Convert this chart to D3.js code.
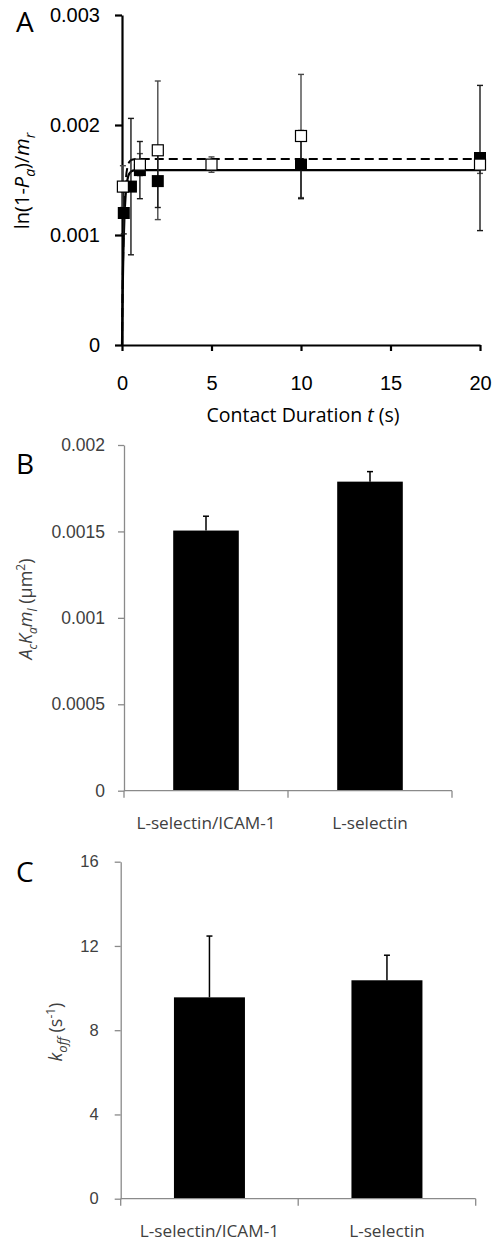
<!DOCTYPE html>
<html>
<head>
<meta charset="utf-8">
<script src="https://cdn.jsdelivr.net/npm/d3@7"></script>
<style>
  html, body { margin: 0; padding: 0; background: #fff; }
  svg { display: block; font-family: "Open Sans", sans-serif; }
</style>
</head>
<body>
<svg id="fig" width="493" height="1243"></svg>
<script>
// ---- Panel A: binding vs contact duration ----
const tOpen      = [0.05, 1, 2, 5, 10, 20];
const openVals   = [0.00144, 0.00164, 0.00177, 0.00164, 0.0019, 0.00164];
const openErr    = [0.00019, 0.00010, 0.00063, 0.00007, 0.00056, 0.00008];
const tFilled    = [0.1, 0.5, 1, 2, 10, 20];
const filledVals = [0.0012, 0.00144, 0.00159, 0.00149, 0.00164, 0.0017];
const filledErr  = [0.00019, 0.00062, 0.00026, 0.00024, 0.00031, 0.00066];
// fitted plateau and off-rate of the two curves
const fitSolid  = { plateau: 0.00159, koff: 9.6 };
const fitDashed = { plateau: 0.00169, koff: 10.4 };
const fitTimes  = [0, 0.02, 0.04, 0.06, 0.08, 0.1, 0.13, 0.16, 0.2, 0.25, 0.3, 0.35, 0.4, 0.5, 0.6, 0.7, 0.8, 1, 1.5, 2, 5, 10, 20];
const ticksA_x = [0, 5, 10, 15, 20];
const ticksA_y = [0, 0.001, 0.002, 0.003];

// ---- Panel B: AcKaml ----
const catsB = ["L-selectin/ICAM-1", "L-selectin"];
const valsB = [0.001505, 0.001788];
const errB  = [0.000083, 0.000058];
const ticksB = [0, 0.0005, 0.001, 0.0015, 0.002];

// ---- Panel C: koff ----
const catsC = ["L-selectin/ICAM-1", "L-selectin"];
const valsC = [9.56, 10.37];
const errC  = [2.91, 1.19];
const ticksC = [0, 4, 8, 12, 16];

const svg = d3.select("#fig");

// rich label: segments of {t, i (italic), s (shift in em: + down, - up), size}
function richText(text, segs) {
  const fs = parseFloat(text.style("font-size"));
  let cur = 0;
  segs.forEach(sg => {
    const target = (sg.s || 0) * fs;
    const ts = text.append("tspan").text(sg.t);
    if (target !== cur) ts.attr("dy", target - cur);
    cur = target;
    if (sg.i) ts.attr("font-style", "italic");
    if (sg.size) ts.style("font-size", sg.size + "px");
  });
}

// ================= Panel A =================
(function () {
  const x = d3.scaleLinear().domain([0, 20]).range([122, 480]);
  const y = d3.scaleLinear().domain([0, 0.003]).range([345, 15]);
  const g = svg.append("g");

  const ax = g.append("g").attr("transform", `translate(0,${y(0)})`)
    .call(d3.axisBottom(x).tickValues(ticksA_x).tickSize(6).tickSizeOuter(0).tickPadding(25));
  const ay = g.append("g").attr("transform", `translate(${x(0)},0)`)
    .call(d3.axisLeft(y).tickValues(ticksA_y).tickSize(7).tickSizeOuter(0).tickPadding(15)
      .tickFormat(d => d === 0 ? "0" : String(d)));
  [ax, ay].forEach(a => {
    a.select(".domain").attr("stroke", "#000").attr("stroke-width", 2.2);
    a.selectAll(".tick line").attr("stroke", "#000").attr("stroke-width", 2.2);
    a.selectAll(".tick text").attr("fill", "#000").style("font-size", "20px");
  });

  const curve = f => d3.line()
    .x(t => x(t))
    .y(t => y(f.plateau * (1 - Math.exp(-f.koff * t))))(fitTimes);

  g.append("path").attr("d", curve(fitDashed)).attr("fill", "none")
    .attr("stroke", "#000").attr("stroke-width", 2).attr("stroke-dasharray", "9,5");
  g.append("path").attr("d", curve(fitSolid)).attr("fill", "none")
    .attr("stroke", "#000").attr("stroke-width", 2.2);

  function errorBars(ts, vals, errs, color) {
    const cap = 3;
    ts.forEach((t, i) => {
      const cx = x(t), lo = y(vals[i] - errs[i]), hi = y(vals[i] + errs[i]);
      g.append("line").attr("x1", cx).attr("x2", cx).attr("y1", lo).attr("y2", hi)
        .attr("stroke", color).attr("stroke-width", 1.4);
      [lo, hi].forEach(yy => g.append("line").attr("x1", cx - cap).attr("x2", cx + cap)
        .attr("y1", yy).attr("y2", yy).attr("stroke", color).attr("stroke-width", 1.4));
    });
  }
  errorBars(tOpen, openVals, openErr, "#4a4a4a");
  errorBars(tFilled, filledVals, filledErr, "#1a1a1a");

  const s = 12;
  g.selectAll("rect.filled").data(tFilled).join("rect").attr("class", "filled")
    .attr("x", (t) => x(t) - s / 2).attr("y", (t, i) => y(filledVals[i]) - s / 2)
    .attr("width", s).attr("height", s).attr("fill", "#000");
  g.selectAll("rect.open").data(tOpen).join("rect").attr("class", "open")
    .attr("x", (t) => x(t) - s / 2 + 0.5).attr("y", (t, i) => y(openVals[i]) - s / 2 + 0.5)
    .attr("width", s - 1).attr("height", s - 1).attr("fill", "#fff")
    .attr("stroke", "#000").attr("stroke-width", 1.2);

  // axis titles
  const xt = g.append("text").attr("x", 303).attr("y", 422).attr("text-anchor", "middle")
    .style("font-size", "19.5px").attr("fill", "#000");
  richText(xt, [{ t: "Contact Duration " }, { t: "t", i: true }, { t: " (s)" }]);

  const yt = g.append("text").attr("transform", "translate(29,181) rotate(-90)")
    .attr("text-anchor", "middle").style("font-size", "20px").attr("fill", "#000");
  richText(yt, [
    { t: "ln(1-" }, { t: "P", i: true }, { t: "a", i: true, s: 0.3, size: 14 },
    { t: ")/" }, { t: "m", i: true }, { t: "r", i: true, s: 0.3, size: 14 }
  ]);

  g.append("text").attr("x", 16).attr("y", 32).style("font-size", "28px").attr("fill", "#000").text("A");
})();

// ============ Bar panel helper ============
function barPanel(cfg) {
  const g = svg.append("g");
  const x = d3.scaleBand().domain(cfg.cats).range([cfg.x0, cfg.x1]).paddingInner(0.6).paddingOuter(0.3);
  const y = d3.scaleLinear().domain([cfg.ticks[0], cfg.ticks[cfg.ticks.length - 1]]).range([cfg.y0, cfg.y1]);
  const axisCol = "#8a8a8a";

  // bars
  g.selectAll("rect.bar").data(cfg.cats).join("rect").attr("class", "bar")
    .attr("x", d => x(d)).attr("width", x.bandwidth())
    .attr("y", (d, i) => y(cfg.vals[i])).attr("height", (d, i) => y(0) - y(cfg.vals[i]))
    .attr("fill", "#000");
  // upward error bars
  cfg.cats.forEach((c, i) => {
    const cx = x(c) + x.bandwidth() / 2;
    const top = y(cfg.vals[i] + cfg.errs[i]);
    g.append("line").attr("x1", cx).attr("x2", cx).attr("y1", y(cfg.vals[i])).attr("y2", top)
      .attr("stroke", "#000").attr("stroke-width", 1.5);
    g.append("line").attr("x1", cx - 3).attr("x2", cx + 3).attr("y1", top).attr("y2", top)
      .attr("stroke", "#000").attr("stroke-width", 1.5);
  });

  // y axis
  const ay = g.append("g").attr("transform", `translate(${cfg.x0},0)`)
    .call(d3.axisLeft(y).tickValues(cfg.ticks).tickSize(6).tickSizeOuter(0).tickPadding(cfg.tickPad)
      .tickFormat(d => String(d)));
  ay.select(".domain").attr("stroke", axisCol).attr("stroke-width", 1.3);
  ay.selectAll(".tick line").attr("stroke", axisCol).attr("stroke-width", 1.3);
  ay.selectAll(".tick text").attr("fill", "#404040").style("font-size", cfg.tickFont + "px");

  // x axis: baseline with separator ticks between categories
  const ax = g.append("g");
  ax.append("line").attr("x1", cfg.x0).attr("x2", cfg.x1).attr("y1", y(0)).attr("y2", y(0))
    .attr("stroke", axisCol).attr("stroke-width", 1.3);
  const step = (cfg.x1 - cfg.x0) / cfg.cats.length;
  d3.range(cfg.cats.length + 1).forEach(k => {
    ax.append("line").attr("x1", cfg.x0 + k * step).attr("x2", cfg.x0 + k * step)
      .attr("y1", y(0)).attr("y2", y(0) + 7).attr("stroke", axisCol).attr("stroke-width", 1.3);
  });
  g.selectAll("text.cat").data(cfg.cats).join("text").attr("class", "cat")
    .attr("x", d => x(d) + x.bandwidth() / 2).attr("y", y(0) + cfg.catDy)
    .attr("text-anchor", "middle").attr("fill", "#404040").style("font-size", "17.2px").text(d => d);

  g.append("text").attr("x", 16).attr("y", cfg.letterY).style("font-size", "28px")
    .attr("fill", "#000").text(cfg.letter);
  return g;
}

// ================= Panel B =================
(function () {
  const g = barPanel({ cats: catsB, vals: valsB, errs: errB, ticks: ticksB, tickPad: 13, tickFont: 17.5,
    x0: 124, x1: 452, y0: 790.7, y1: 445, catDy: 38.5, letter: "B", letterY: 474 });
  const yt = g.append("text").attr("transform", "translate(32,609) rotate(-90)")
    .attr("text-anchor", "middle").style("font-size", "18px").attr("fill", "#404040");
  richText(yt, [
    { t: "A", i: true }, { t: "c", i: true, s: 0.3, size: 12 },
    { t: "K", i: true }, { t: "a", i: true, s: 0.3, size: 12 },
    { t: "m", i: true }, { t: "l", i: true, s: 0.3, size: 12 },
    { t: " (µm" }, { t: "2", s: -0.4, size: 12 }, { t: ")" }
  ]);
})();

// ================= Panel C =================
(function () {
  const g = barPanel({ cats: catsC, vals: valsC, errs: errC, ticks: ticksC, tickPad: 16, tickFont: 16.5,
    x0: 120.7, x1: 475.7, y0: 1198.7, y1: 861.7, catDy: 38, letter: "C", letterY: 882 });
  const yt = g.append("text").attr("transform", "translate(62,1032) rotate(-90)")
    .attr("text-anchor", "middle").style("font-size", "18px").attr("fill", "#404040");
  richText(yt, [
    { t: "k", i: true }, { t: "off", i: true, s: 0.3, size: 13 },
    { t: " (s" }, { t: "-1", s: -0.4, size: 12 }, { t: ")" }
  ]);
})();
</script>
</body>
</html>
